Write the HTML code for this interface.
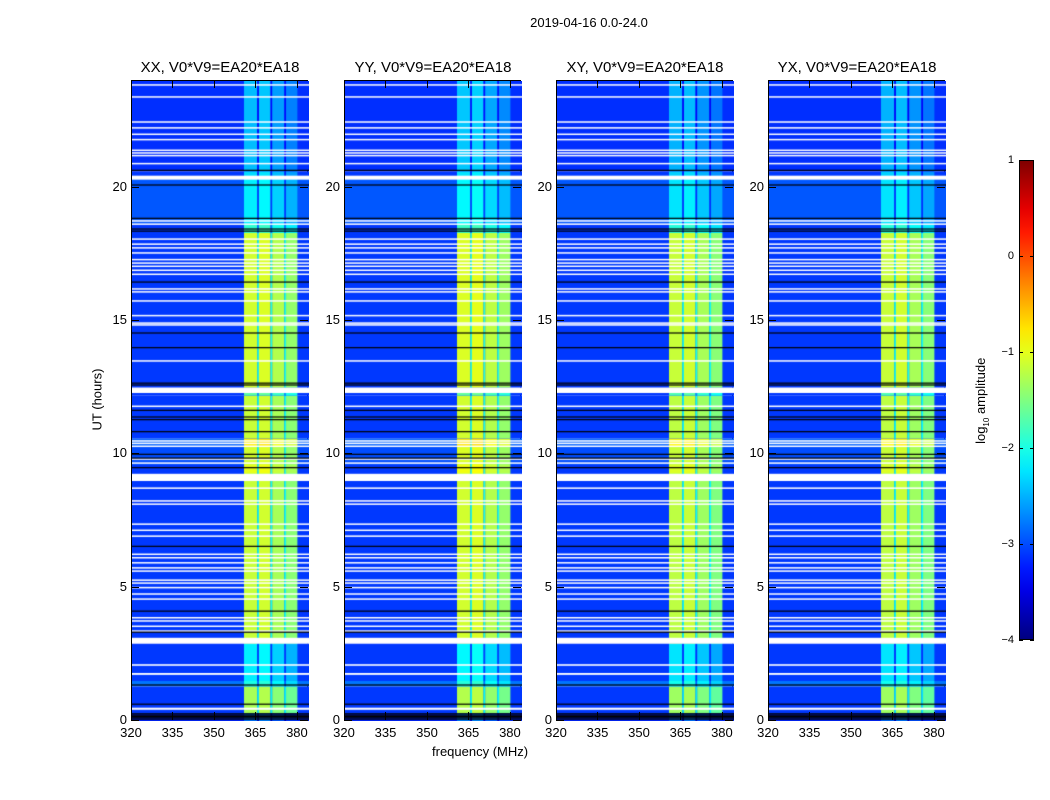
<!DOCTYPE html>
<html><head><meta charset="utf-8">
<style>
body{margin:0;background:#fff;font-family:"Liberation Sans","DejaVu Sans",sans-serif;}
#root{position:relative;width:1050px;height:800px;overflow:hidden;background:#fff}
.t{position:absolute;white-space:nowrap;color:#000}
.panel{position:absolute;top:80px;width:177px;height:640px;border:1px solid #000;box-sizing:border-box}
canvas{position:absolute;left:0;top:0}
.tick{position:absolute;background:#000}
</style></head>
<body>
<div id="root">
<div class="t" style="left:489px;top:15px;width:200px;text-align:center;font-size:13px">2019-04-16 0.0-24.0</div>
<div class="t" style="left:432px;top:744px;font-size:13px">frequency (MHz)</div>
<div class="t" style="left:52px;top:392px;width:90px;text-align:center;font-size:13px;transform:rotate(-90deg)">UT (hours)</div>
<div id="cbar" style="position:absolute;left:1019px;top:160px;width:15px;height:480px;border:1px solid #000;box-sizing:border-box"></div>
<div class="t" style="left:922px;top:392px;width:120px;text-align:center;font-size:13px;transform:rotate(-90deg)">log<sub style="font-size:8px">10</sub> amplitude</div>
</div>
<script>
// ---- data ----
const panelTitles = ["XX, V0*V9=EA20*EA18","YY, V0*V9=EA20*EA18","XY, V0*V9=EA20*EA18","YX, V0*V9=EA20*EA18"];
const panelLefts = [131,344,556,768];
const xTicks = [320,335,350,365,380];
const yTicks = [0,5,10,15,20];
const cbTicks = [1,0,-1,-2,-3,-4];
// time segments: [startHour, endHour, rfiBandLevel, backgroundLevel]
const segments = [
 [0,0.3,-2.8,-3.2],[0.3,1.3,-1.3,-3.1],[1.3,1.5,-2.0,-2.8],[1.5,2.9,-2.2,-3.1],
 [2.9,3.1,-1.4,-3.1],[3.1,9.3,-1.15,-3.1],[9.3,9.6,-1.0,-3.1],[9.6,10.3,-1.1,-3.0],
 [10.3,10.6,-0.8,-2.9],[10.6,12.2,-1.15,-3.1],[12.2,12.5,-1.7,-3.1],[12.5,18.3,-1.1,-3.1],
 [18.3,18.6,-1.9,-3.1],[18.6,20.4,-2.2,-2.95],[20.4,20.6,-2.3,-3.1],[20.6,24,-2.45,-3.15]
];
// per-panel band offsets
const panelOffsets = [0,0.05,-0.05,-0.05];
// frequency sub-columns: [startMHz, endMHz, levelOffset]
const bandCols = [[360.5,365.3,0],[365.3,365.9,-0.9],[365.9,370.1,0.05],[370.1,370.7,-0.9],[370.7,375.1,-0.15],[375.1,375.7,-0.9],[375.7,379.8,-0.3]];
// flagged (white) rows [start,end] hours
const whiteRows = [[0.42,0.5],[1.73,1.8],[2.07,2.13],[2.9,3.12],[3.35,3.4],[3.53,3.58],[3.73,3.78],[3.85,3.9],[4.55,4.6],[4.74,4.79],[4.98,5.03],[5.15,5.2],[5.26,5.31],[5.6,5.65],[5.72,5.77],[5.91,5.96],[6.1,6.15],[6.23,6.28],[6.91,6.96],[7.13,7.18],[7.36,7.41],[8.11,8.16],[8.23,8.28],[8.71,8.76],[9.0,9.27],[9.65,9.7],[9.8,9.85],[10.28,10.33],[10.4,10.44],[10.48,10.53],[11.78,11.83],[12.3,12.5],[13.48,13.53],[14.83,14.88],[14.9,14.95],[15.18,15.23],[15.73,15.78],[16.08,16.12],[16.18,16.23],[16.73,16.78],[16.88,16.93],[17.03,17.08],[17.15,17.2],[17.28,17.33],[17.53,17.58],[17.72,17.77],[17.86,17.91],[18.05,18.1],[18.61,18.66],[18.73,18.78],[20.3,20.45],[20.88,20.93],[21.18,21.23],[21.28,21.33],[21.38,21.43],[21.78,21.83],[21.98,22.03],[22.22,22.27],[22.44,22.49],[23.38,23.43],[23.83,23.88]];
// black rows (hours)
const blackRows = [0.07,0.12,0.17,0.22,0.27,0.63,1.35,3.33,4.12,6.55,9.5,9.86,10.0,10.85,11.3,11.4,11.65,12.6,12.67,14.0,14.55,16.46,18.37,18.45,18.85,20.1,20.65];

// ---- helpers ----
const F0=320,F1=384,T0=0,T1=24,W=177,H=640;
const xScale=f=>(f-F0)/(F1-F0)*W;
const yScale=t=>H-(t-T0)/(T1-T0)*H;
function jet(v){ // v in [-4,1]
  let x=(v+4)/5; x=Math.max(0,Math.min(1,x));
  const c=t=>Math.max(0,Math.min(1,t));
  const r=c(1.5-Math.abs(4*x-3)), g=c(1.5-Math.abs(4*x-2)), b=c(1.5-Math.abs(4*x-1));
  return `rgb(${Math.round(r*255)},${Math.round(g*255)},${Math.round(b*255)})`;
}
const root=document.getElementById('root');
function addTick(x,y,w,h,name){
  const d=document.createElement('div');
  d.className='tick';
  
  
  d.style.cssText=`left:${x}px;top:${y}px;width:${w}px;height:${h}px`;
  root.appendChild(d);
}
function addText(txt,x,y,align,size,name){
  const d=document.createElement('div');
  d.className='t';
  
  
  d.textContent=txt;
  d.style.fontSize=size+'px';
  d.style.top=y+'px';
  if(align==='center'){d.style.left=(x-110)+'px';d.style.width='220px';d.style.textAlign='center';}
  else {d.style.left=(x-60)+'px';d.style.width='60px';d.style.textAlign='right';}
  root.appendChild(d);
}
panelLefts.forEach((L,p)=>{
  const pd=document.createElement('div');
  pd.className='panel';
  
  
  pd.style.left=L+'px';
  const cv=document.createElement('canvas');
  cv.width=W;cv.height=H;
  
  
  pd.appendChild(cv);
  root.appendChild(pd);
  const ctx=cv.getContext('2d');
  segments.forEach(s=>{
    const y0=yScale(s[1]),y1=yScale(s[0]);
    ctx.fillStyle=jet(s[3]);ctx.fillRect(0,y0,W,y1-y0);
    bandCols.forEach(b=>{
      const x0=xScale(b[0]),x1=xScale(b[1]);
      ctx.fillStyle=jet(s[2]+b[2]+panelOffsets[p]);
      ctx.fillRect(x0,y0,x1-x0,y1-y0);
    });
  });
  ctx.fillStyle='#fff';
  whiteRows.forEach(r=>{const y0=yScale(r[1]),y1=yScale(r[0]);ctx.fillRect(0,y0,W,Math.max(1.5,y1-y0));});
  ctx.fillStyle='#000';
  blackRows.forEach(h=>{ctx.fillRect(0,yScale(h)-0.6,W,1.2);});
  addText(panelTitles[p],L+89,59,'center',15,'panel-title-'+(p+1));
  xTicks.forEach(f=>{
    const x=L+xScale(f);
    addTick(x,712,1,8,'x-tick');
    addTick(x,80,1,8,'x-tick-top');
    addText(String(f),x,725,'center',13,'x-tick-label');
  });
  yTicks.forEach(t=>{
    const y=80+yScale(t);
    addTick(L,y,8,1,'y-tick');
    addTick(L+169,y,8,1,'y-tick-right');
    addText(String(t),L-4,y-8,'right',13,'y-tick-label');
  });
});
// colorbar
const cb=document.getElementById('cbar');
const stops=[];
for(let i=0;i<=20;i++){const v=1-i*0.25;stops.push(jet(v)+' '+(i*5)+'%');}
cb.style.background='linear-gradient(to bottom,'+stops.join(',')+')';
cbTicks.forEach(v=>{
  const y=160+(1-v)/5*480;
  addTick(1019,y,4,1,'colorbar-tick');
  addTick(1030,y,4,1,'colorbar-tick-right');
  addText(v<0?'\u2212'+(-v):String(v),1014,y-6,'right',11,'colorbar-tick-label');
});
</script>
</body></html>
